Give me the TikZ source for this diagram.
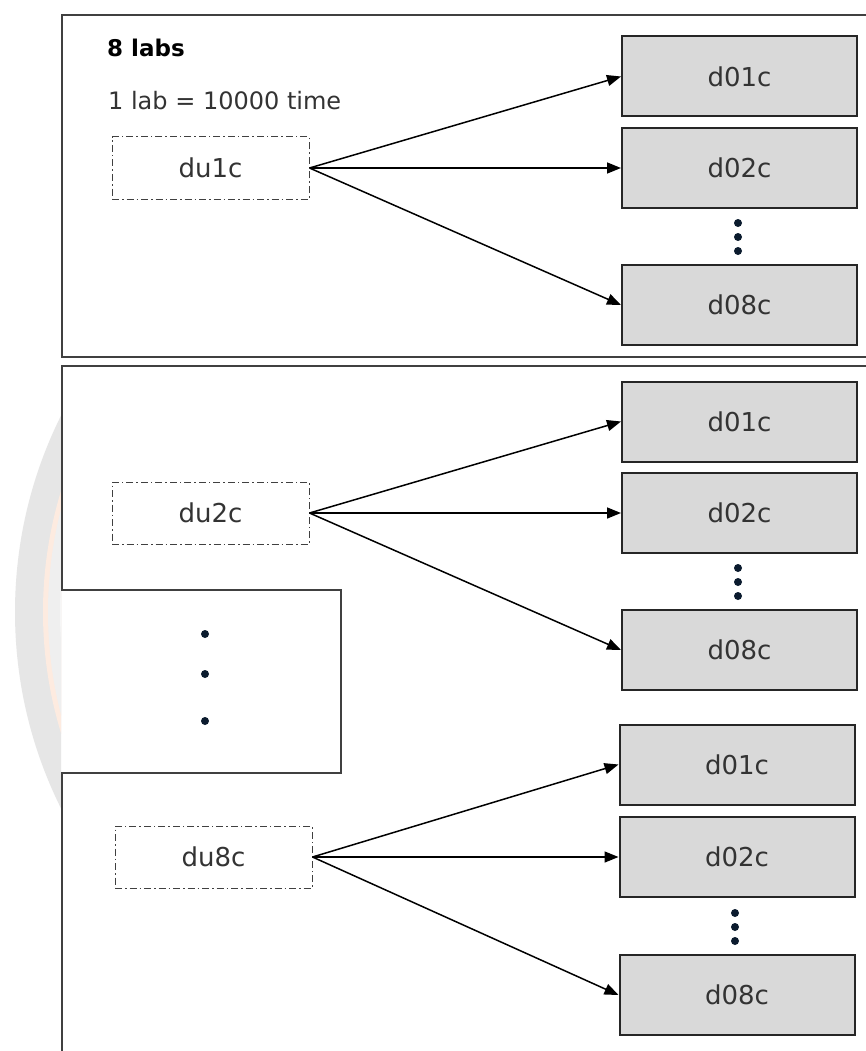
\documentclass[tikz,border=0pt]{standalone}
\usepackage{fontspec}
\setmainfont{DejaVu Sans}
\usetikzlibrary{arrows.meta}

\definecolor{framegray}{HTML}{404040}
\definecolor{boxfill}{HTML}{D9D9D9}
\definecolor{txt}{HTML}{333333}
\definecolor{dotnavy}{HTML}{0B1B2E}
\definecolor{markgray}{HTML}{E6E6E6}
\definecolor{markorange}{HTML}{FDEBE0}
\definecolor{markmid}{HTML}{EFEFEF}
\definecolor{marklight}{HTML}{F6F6F6}

\tikzset{
  frameline/.style={draw=framegray, line width=2pt},
  dbox/.style={draw=black!85, fill=boxfill, line width=2pt,
    minimum width=235pt, minimum height=80pt, inner sep=0pt,
    text=txt, font=\fontsize{26}{30}\selectfont},
  ubox/.style={draw=black!75, dash pattern=on 7pt off 3pt on 1.5pt off 3pt,
    line width=1pt, minimum width=197pt, minimum height=62pt, inner sep=0pt,
    text=txt, font=\fontsize{26}{30}\selectfont},
  link/.style={draw=black, line width=1.5pt, -{Triangle[length=14pt,width=11pt]}},
  vdot/.style={circle, fill=dotnavy, minimum size=8pt, inner sep=0pt},
}

\begin{document}
\begin{tikzpicture}[x=1pt,y=-1pt]
  \useasboundingbox (0,0) rectangle (866,1051);
  \clip (0,0) rectangle (866,1051);
  \fill[white] (0,0) rectangle (866,1051);

  % faint logo ring in the left margin
  \begin{scope}
    \clip (0,0) rectangle (61,1051);
    \fill[markgray] (456,612) circle[radius=441pt];
    \fill[markorange] (456,612) circle[radius=413pt];
    \fill[markmid] (456,612) circle[radius=408pt];
    \fill[marklight] (456,612) circle[radius=396pt];
  \end{scope}

  % frames
  \draw[frameline] (880,15) -- (62,15) -- (62,357) -- (880,357);
  \draw[frameline] (62,1060) -- (62,773) -- (341,773) -- (341,590)
    -- (62,590) -- (62,366) -- (880,366);

  % header text
  \node[anchor=base west, inner sep=0pt, font=\bfseries\fontsize{23}{27}\selectfont]
    (title) at (107,57) {8 labs};
  \node[anchor=base west, inner sep=0pt, text=txt, font=\fontsize{24}{28}\selectfont]
    (note) at (108,110) {1 lab = 10000 time};

  % group 1
  \node[ubox] (du1) at (210.5,168) {du1c};
  \node[dbox] (a1) at (739.5,76.5) {d01c};
  \node[dbox] (b1) at (739.5,168) {d02c};
  \node[dbox] (c1) at (739.5,305) {d08c};
  \node[vdot] (p11) at (738,223) {};
  \node[vdot] (p12) at (738,237) {};
  \node[vdot] (p13) at (738,251) {};
  \draw[link] (du1.east) -- (a1.west);
  \draw[link] (du1.east) -- (b1.west);
  \draw[link] (du1.east) -- (c1.west);

  % group 2
  \node[ubox] (du2) at (210.5,513) {du2c};
  \node[dbox] (a2) at (739.5,421.5) {d01c};
  \node[dbox] (b2) at (739.5,513) {d02c};
  \node[dbox] (c2) at (739.5,650) {d08c};
  \node[vdot] (p21) at (738,568) {};
  \node[vdot] (p22) at (738,582) {};
  \node[vdot] (p23) at (738,596) {};
  \draw[link] (du2.east) -- (a2.west);
  \draw[link] (du2.east) -- (b2.west);
  \draw[link] (du2.east) -- (c2.west);

  % elided groups
  \node[vdot] (q1) at (205,634) {};
  \node[vdot] (q2) at (205,674) {};
  \node[vdot] (q3) at (205,721) {};

  % group 8
  \node[ubox] (du8) at (213.5,857) {du8c};
  \node[dbox] (a8) at (737,764.5) {d01c};
  \node[dbox] (b8) at (737,857) {d02c};
  \node[dbox] (c8) at (737,995) {d08c};
  \node[vdot] (p81) at (735,913) {};
  \node[vdot] (p82) at (735,927) {};
  \node[vdot] (p83) at (735,941) {};
  \draw[link] (du8.east) -- (a8.west);
  \draw[link] (du8.east) -- (b8.west);
  \draw[link] (du8.east) -- (c8.west);
\end{tikzpicture}
\end{document}
